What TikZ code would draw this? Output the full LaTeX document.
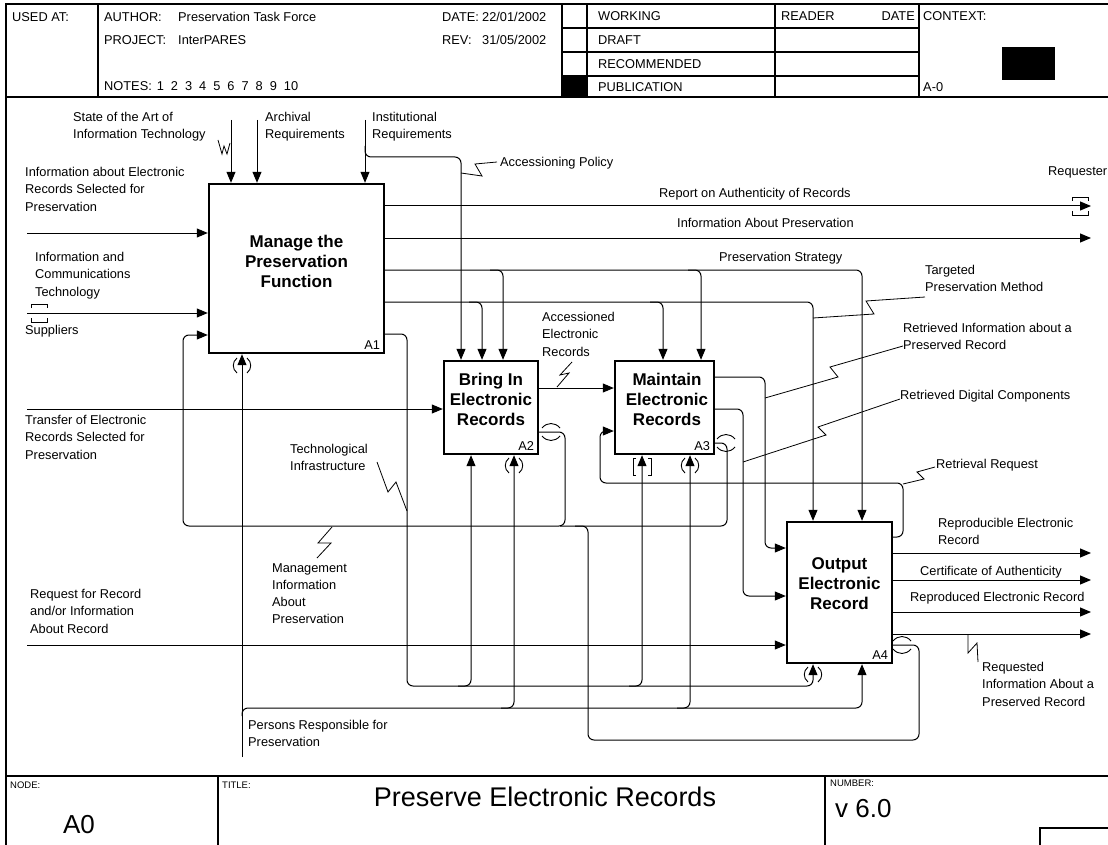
\documentclass[tikz,border=0pt]{standalone}
\usepackage{fontspec}
\setmainfont{Liberation Sans}
\usetikzlibrary{arrows.meta}
\begin{document}
\begin{tikzpicture}[x=1pt,y=-1pt,
  lbl/.style={anchor=north west,inner sep=0pt,align=left,font=\fontsize{12.8}{17.3}\selectfont},
  hdr/.style={anchor=west,inner sep=0pt,font=\fontsize{12.8}{15}\selectfont},
  ftr/.style={anchor=west,inner sep=0pt,font=\fontsize{9.5}{11}\selectfont},
  big/.style={inner sep=0pt,font=\fontsize{26}{30}\selectfont},
  fn/.style={draw,line width=2.4pt,inner sep=0pt},
  fntext/.style={inner sep=0pt,align=center,font=\fontsize{17}{20}\selectfont\bfseries},
  fnid/.style={anchor=base east,inner sep=0pt,font=\fontsize{12.8}{15}\selectfont},
  wire/.style={line width=1pt,rounded corners=6pt},
  arr/.style={wire,-{Triangle[length=11pt,width=9pt]}},
  squig/.style={line width=0.8pt},
  tun/.style={line width=0.9pt},
  rule/.style={line width=1.2pt},
  parens/.pic={\draw[tun] (-5,4) .. controls (-10,8) and (-10,15) .. (-5,19);
               \draw[tun] (5,4) .. controls (10,8) and (10,15) .. (5,19);},
  sqbrackets/.pic={\draw[tun] (-6,4) -- (-9,4) -- (-9,21) -- (-6,21);
                   \draw[tun] (6,4) -- (9,4) -- (9,21) -- (6,21);},
  outarcs/.pic={\draw[tun] (-9,-4) .. controls (-4,-10) and (4,-10) .. (9,-4);
                \draw[tun] (-9,4) .. controls (-4,10) and (4,10) .. (9,4);},
  hbrackets/.pic={\draw[tun] (-8,-5) -- (-8,-9) -- (8,-9) -- (8,-5);
                  \draw[tun] (-8,5) -- (-8,9) -- (8,9) -- (8,5);}]

\useasboundingbox (0,0) rectangle (1108,845);

% ---------- frame, header and footer ----------
\draw[rule] (6,845) -- (6,4) -- (1108,4);
\draw[rule] (6,97) -- (1108,97);
\draw[rule] (6,776) -- (1108,776);
\draw[rule] (98,4) -- (98,97);
\draw[rule] (562,4) -- (562,97);
\draw[rule] (587,4) -- (587,97);
\draw[rule] (775,4) -- (775,97);
\draw[rule] (919,4) -- (919,97);
\foreach \r in {28,52,76} \draw[rule] (562,\r) -- (919,\r);
\fill (562,76) rectangle (587,97);
\fill (1002,47) rectangle (1055,80);

\node[hdr] (hUsed) at (12,17) {USED AT:};
\node[hdr] (hAuthor) at (104,17) {AUTHOR:};
\node[hdr] (hAuthorV) at (178,17) {Preservation Task Force};
\node[hdr] (hProject) at (104,40) {PROJECT:};
\node[hdr] (hProjectV) at (178,40) {InterPARES};
\node[hdr] (hNotes) at (104,86) {NOTES:\hspace{5pt}1\hspace{7pt}2\hspace{7pt}3\hspace{7pt}4\hspace{7pt}5\hspace{7pt}6\hspace{7pt}7\hspace{7pt}8\hspace{7pt}9\hspace{7pt}10};
\node[hdr] (hDate) at (442,17) {DATE:};
\node[hdr] (hDateV) at (482,17) {22/01/2002};
\node[hdr] (hRev) at (442,40) {REV:};
\node[hdr] (hRevV) at (482,40) {31/05/2002};
\node[hdr] (hWorking) at (598,16) {WORKING};
\node[hdr] (hDraft) at (598,40) {DRAFT};
\node[hdr] (hRecom) at (598,64) {RECOMMENDED};
\node[hdr] (hPubl) at (598,87) {PUBLICATION};
\node[hdr] (hReader) at (781,16) {READER};
\node[hdr,anchor=east] (hRDate) at (915,16) {DATE};
\node[hdr] (hContext) at (923,16) {CONTEXT:};
\node[hdr] (hCtxId) at (923,87) {A-0};

\draw[rule] (218,776) -- (218,845);
\draw[rule] (825,776) -- (825,845);
\draw[rule] (1040,828) rectangle (1115,850);
\node[ftr] (fNode) at (10,785) {NODE:};
\node[ftr] (fTitle) at (222,785) {TITLE:};
\node[ftr] (fNumber) at (830,783) {NUMBER:};
\node[big] (fA0) at (79,825) {A0};
\node[big,font=\fontsize{27}{30}\selectfont] (fName) at (545,797) {Preserve Electronic Records};
\node[big,anchor=west] (fVer) at (835,809) {v 6.0};

% ---------- activity boxes ----------
\node[fn,minimum width=175pt,minimum height=169pt] (A1) at (296.5,268.5) {};
\node[fn,minimum width=94pt,minimum height=93pt] (A2) at (491,407.5) {};
\node[fn,minimum width=99pt,minimum height=93pt] (A3) at (664.5,407.5) {};
\node[fn,minimum width=105pt,minimum height=141pt] (A4) at (839.5,592.5) {};
\node[fntext] (A1t) at (296.5,261) {Manage the\\Preservation\\Function};
\node[fntext] (A2t) at (491,399) {Bring In\\Electronic\\Records};
\node[fntext] (A3t) at (667,399) {Maintain\\Electronic\\Records};
\node[fntext] (A4t) at (839.5,584) {Output\\Electronic\\Record};
\node[fnid] (A1n) at ([xshift=-5pt,yshift=4.5pt]A1.south east) {A1};
\node[fnid] (A2n) at ([xshift=-5pt,yshift=4.5pt]A2.south east) {A2};
\node[fnid] (A3n) at ([xshift=-5pt,yshift=4.5pt]A3.south east) {A3};
\node[fnid] (A4n) at ([xshift=-5pt,yshift=4.5pt]A4.south east) {A4};

% ---------- boundary ends ----------
\coordinate (sArt) at (231,120);
\coordinate (sArch) at (257,120);
\coordinate (sInst) at (365,120);
\coordinate (sInfoER) at (27,233);
\coordinate (sICT) at (27,313);
\coordinate (sTransfer) at (27,409);
\coordinate (sRequest) at (27,645);
\coordinate (sPersons) at (242,757);
\coordinate (tReport) at (1091,206);
\coordinate (tInfoPres) at (1091,238);
\coordinate (tRepro) at (1091,553);
\coordinate (tCert) at (1091,580);
\coordinate (tReproduced) at (1091,612);
\coordinate (tReqInfo) at (1091,634);

% ---------- controls into A1 ----------
\draw[arr] (sArt) -- (sArt |- A1.north);
\draw[arr] (sArch) -- (sArch |- A1.north);
\draw[arr] (sInst) -- (sInst |- A1.north);
\draw[arr] (365,146) -- (365,157) -- (461,157) -- (461,0 |- A2.north);

% ---------- inputs ----------
\draw[arr] (sInfoER) -- (sInfoER -| A1.west);
\draw[arr] (sICT) -- (sICT -| A1.west);
\draw[arr] (sTransfer) -- (sTransfer -| A2.west);
\draw[arr] (sRequest) -- (sRequest -| A4.west);

% ---------- outputs of A1 ----------
\draw[arr] (A1.east |- tReport) -- (tReport);
\draw[arr] (A1.east |- tInfoPres) -- (tInfoPres);
\draw[arr] (A1.east |- 0,270) -- (862,270) -- (862,0 |- A4.north);
\draw[arr] (490,270) -- (503,270) -- (503,0 |- A2.north);
\draw[arr] (688,270) -- (701,270) -- (701,0 |- A3.north);
\draw[arr] (A1.east |- 0,302) -- (813,302) -- (813,0 |- A4.north);
\draw[arr] (469,302) -- (482,302) -- (482,0 |- A2.north);
\draw[arr] (650,302) -- (663,302) -- (663,0 |- A3.north);
\draw[arr] (A1.east |- 0,334) -- (407,334) -- (407,686) -- (813,686) -- (813,0 |- A4.south);
\draw[arr] (458,686) -- (471,686) -- (471,0 |- A2.south);
\draw[arr] (629,686) -- (642,686) -- (642,0 |- A3.south);

% ---------- management feedback to A1 ----------
\draw[arr] (A2.east |- 0,432) -- (565,432) -- (565,526) -- (183,526) -- (183,335) -- (183,335 -| A1.west);
\draw[wire] (A3.east |- 0,443) -- (727,443) -- (727,526) -- (560,526);
\draw[wire] (A4.east |- 0,645) -- (919,645) -- (919,740) -- (588,740) -- (588,526) -- (575,526);

% ---------- mechanism: persons ----------
\draw[arr] (sPersons) -- (sPersons |- A1.south);
\draw[arr] (242,716) -- (242,708) -- (862,708) -- (862,0 |- A4.south);
\draw[arr] (501,708) -- (514,708) -- (514,0 |- A2.south);
\draw[arr] (677,708) -- (690,708) -- (690,0 |- A3.south);

% ---------- flows between A2, A3, A4 ----------
\draw[arr] (A2.east |- 0,388) -- (A3.west |- 0,388);
\draw[arr] (A3.east |- 0,377) -- (765,377) -- (765,548) -- (A4.west |- 0,548);
\draw[arr] (A3.east |- 0,409) -- (743,409) -- (743,596) -- (A4.west |- 0,596);
\draw[arr] (A4.east |- 0,537) -- (903,537) -- (903,483) -- (600,483) -- (600,431) -- (A3.west |- 0,431);

% ---------- outputs of A4 ----------
\draw[arr] (A4.east |- tRepro) -- (tRepro);
\draw[arr] (A4.east |- tCert) -- (tCert);
\draw[arr] (A4.east |- tReproduced) -- (tReproduced);
\draw[arr] (A4.east |- tReqInfo) -- (tReqInfo);

% ---------- tunnel marks ----------
\pic at (242,354) {parens};
\pic at (514,454) {parens};
\pic at (690,454) {parens};
\pic at (813,663) {parens};
\pic at (642,454) {sqbrackets};
\pic at (551,432) {outarcs};
\pic at (726,443) {outarcs};
\pic at (902,645) {outarcs};
\pic at (39,313) {hbrackets};
\pic at (1080,206) {hbrackets};

% ---------- label squiggles ----------
\draw[squig] (218,140) -- (222,154) -- (224,146) -- (227,154) -- (230,143);
\draw[squig] (461,173) -- (482,176) -- (475,164) -- (497,162);
\draw[squig] (572,362) -- (560,375) -- (569,373) -- (557,387);
\draw[squig] (925,297) -- (866,301) -- (874,314) -- (813,318);
\draw[squig] (903,346) -- (830,367) -- (838,377) -- (765,398);
\draw[squig] (900,399) -- (818,427) -- (826,435) -- (743,462);
\draw[squig] (935,467) -- (917,472) -- (924,479) -- (903,484);
\draw[squig] (377,462) -- (388,492) -- (396,482) -- (407,511);
\draw[squig] (332,527) -- (318,543) -- (331,543) -- (317,558);
\draw[squig] (968,634) -- (968,653) -- (977,643) -- (978,662);

% ---------- arrow labels ----------
\node[lbl] (lStateArt) at (73,112) {State of the Art of\\Information Technology};
\node[lbl] (lArchival) at (265,112) {Archival\\Requirements};
\node[lbl] (lInstit) at (372,112) {Institutional\\Requirements};
\node[lbl] (lAccPol) at (500,157) {Accessioning Policy};
\node[lbl] (lInfoER) at (25,167) {Information about Electronic\\Records Selected for\\Preservation};
\node[lbl] (lRequester) at (1048,166) {Requester};
\node[lbl] (lReport) at (659,188) {Report on Authenticity of Records};
\node[lbl] (lInfoPres) at (677,218) {Information About Preservation};
\node[lbl] (lStrategy) at (719,252) {Preservation Strategy};
\node[lbl] (lTargeted) at (925,265) {Targeted\\Preservation Method};
\node[lbl] (lICT) at (35,252) {Information and\\Communications\\Technology};
\node[lbl] (lSuppliers) at (25,325) {Suppliers};
\node[lbl] (lRetInfo) at (903,323) {Retrieved Information about a\\Preserved Record};
\node[lbl] (lAccER) at (542,312) {Accessioned\\Electronic\\Records};
\node[lbl] (lRetDig) at (900,390) {Retrieved Digital Components};
\node[lbl] (lTransfer) at (25,415) {Transfer of Electronic\\Records Selected for\\Preservation};
\node[lbl] (lTechInf) at (290,444) {Technological\\Infrastructure};
\node[lbl] (lRetReq) at (936,459) {Retrieval Request};
\node[lbl] (lRepro) at (938,518) {Reproducible Electronic\\Record};
\node[lbl] (lCert) at (920,566) {Certificate of Authenticity};
\node[lbl] (lMgmt) at (272,563) {Management\\Information\\About\\Preservation};
\node[lbl] (lRequest) at (30,589) {Request for Record\\and/or Information\\About Record};
\node[lbl] (lReproduced) at (910,592) {Reproduced Electronic Record};
\node[lbl] (lReqInfo) at (982,662) {Requested\\Information About a\\Preserved Record};
\node[lbl] (lPersons) at (248,720) {Persons Responsible for\\Preservation};

\end{tikzpicture}
\end{document}
